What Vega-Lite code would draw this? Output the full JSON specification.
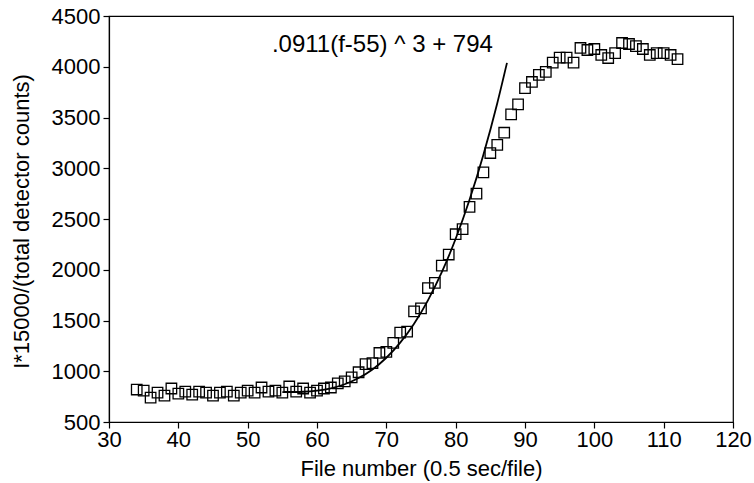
{
  "$schema": "https://vega.github.io/schema/vega-lite/v6.json",
  "width": 624,
  "height": 406,
  "autosize": {"type": "none"},
  "padding": {"left": 109, "top": 16, "right": 21, "bottom": 61},
  "background": "white",
  "config": {
    "font": "Liberation Sans",
    "view": {"stroke": "black", "strokeWidth": 1.2},
    "axis": {
      "grid": false,
      "domainColor": "black",
      "tickColor": "black",
      "labelColor": "black",
      "titleColor": "black",
      "labelFont": "Liberation Sans",
      "titleFont": "Liberation Sans",
      "labelFontSize": 22,
      "titleFontSize": 22,
      "titleFontWeight": "normal",
      "tickSize": 6,
      "domainWidth": 1.2,
      "tickWidth": 1.2,
      "format": "d"
    }
  },
  "datasets": {
    "obs": [
      {"f": 34, "v": 820}, {"f": 35, "v": 810}, {"f": 36, "v": 740}, {"f": 37, "v": 790},
      {"f": 38, "v": 760}, {"f": 39, "v": 830}, {"f": 40, "v": 780}, {"f": 41, "v": 800},
      {"f": 42, "v": 770}, {"f": 43, "v": 800}, {"f": 44, "v": 790}, {"f": 45, "v": 760},
      {"f": 46, "v": 790}, {"f": 47, "v": 800}, {"f": 48, "v": 760}, {"f": 49, "v": 790},
      {"f": 50, "v": 810}, {"f": 51, "v": 790}, {"f": 52, "v": 840}, {"f": 53, "v": 800},
      {"f": 54, "v": 810}, {"f": 55, "v": 790}, {"f": 56, "v": 850}, {"f": 57, "v": 800},
      {"f": 58, "v": 830}, {"f": 59, "v": 790}, {"f": 60, "v": 810}, {"f": 61, "v": 830},
      {"f": 62, "v": 840}, {"f": 63, "v": 880}, {"f": 64, "v": 900}, {"f": 65, "v": 940},
      {"f": 66, "v": 990}, {"f": 67, "v": 1070}, {"f": 68, "v": 1080}, {"f": 69, "v": 1180},
      {"f": 70, "v": 1190}, {"f": 71, "v": 1280}, {"f": 72, "v": 1380}, {"f": 73, "v": 1390},
      {"f": 74, "v": 1590}, {"f": 75, "v": 1620}, {"f": 76, "v": 1820}, {"f": 77, "v": 1870},
      {"f": 78, "v": 2040}, {"f": 79, "v": 2150}, {"f": 80, "v": 2350}, {"f": 81, "v": 2400},
      {"f": 82, "v": 2620}, {"f": 83, "v": 2750}, {"f": 84, "v": 2960}, {"f": 85, "v": 3150},
      {"f": 86, "v": 3230}, {"f": 87, "v": 3350}, {"f": 88, "v": 3530}, {"f": 89, "v": 3630},
      {"f": 90, "v": 3790}, {"f": 91, "v": 3850}, {"f": 92, "v": 3920}, {"f": 93, "v": 3950},
      {"f": 94, "v": 4040}, {"f": 95, "v": 4090}, {"f": 96, "v": 4090}, {"f": 97, "v": 4040},
      {"f": 98, "v": 4185}, {"f": 99, "v": 4165}, {"f": 100, "v": 4175}, {"f": 101, "v": 4116},
      {"f": 102, "v": 4086}, {"f": 103, "v": 4135}, {"f": 104, "v": 4234}, {"f": 105, "v": 4224},
      {"f": 106, "v": 4204}, {"f": 107, "v": 4175}, {"f": 108, "v": 4116}, {"f": 109, "v": 4135},
      {"f": 110, "v": 4135}, {"f": 111, "v": 4116}, {"f": 112, "v": 4076}
    ],
    "fit": [
      {"f": 55, "v": 794}, {"f": 58, "v": 798}, {"f": 60, "v": 809}, {"f": 62, "v": 832},
      {"f": 64, "v": 872}, {"f": 66, "v": 933}, {"f": 68, "v": 1018}, {"f": 70, "v": 1133},
      {"f": 72, "v": 1282}, {"f": 74, "v": 1469}, {"f": 76, "v": 1699}, {"f": 78, "v": 1976},
      {"f": 80, "v": 2305}, {"f": 82, "v": 2689}, {"f": 84, "v": 3133}, {"f": 86, "v": 3641},
      {"f": 87.4, "v": 4038}
    ]
  },
  "layer": [
    {
      "data": {"name": "obs"},
      "mark": {"type": "point", "shape": "square", "filled": false, "stroke": "black", "strokeWidth": 1.3, "size": 110, "opacity": 1},
      "encoding": {
        "x": {
          "field": "f", "type": "quantitative",
          "scale": {"domain": [30, 120], "nice": false, "zero": false},
          "axis": {"values": [30, 40, 50, 60, 70, 80, 90, 100, 110, 120], "title": "File number (0.5 sec/file)", "labelPadding": 1, "titleY": 46, "titleBaseline": "middle", "labelFlush": false}
        },
        "y": {
          "field": "v", "type": "quantitative",
          "scale": {"domain": [500, 4500], "nice": false, "zero": false},
          "axis": {"values": [500, 1000, 1500, 2000, 2500, 3000, 3500, 4000, 4500], "title": "I*15000/(total detector counts)", "labelPadding": 3, "titleX": -88, "titleY": 205, "titleAngle": -90, "titleAlign": "center", "titleBaseline": "middle", "labelFlush": false}
        }
      }
    },
    {
      "data": {"name": "fit"},
      "mark": {"type": "line", "color": "black", "strokeWidth": 1.8, "interpolate": "monotone"},
      "encoding": {
        "x": {"field": "f", "type": "quantitative"},
        "y": {"field": "v", "type": "quantitative"}
      }
    },
    {
      "data": {"values": [{"label": ".0911(f-55) ^ 3 + 794"}]},
      "mark": {"type": "text", "align": "left", "baseline": "middle", "fontSize": 24, "font": "Liberation Sans", "color": "black"},
      "encoding": {
        "x": {"datum": 53.5},
        "y": {"datum": 4210},
        "text": {"field": "label"}
      }
    }
  ]
}
